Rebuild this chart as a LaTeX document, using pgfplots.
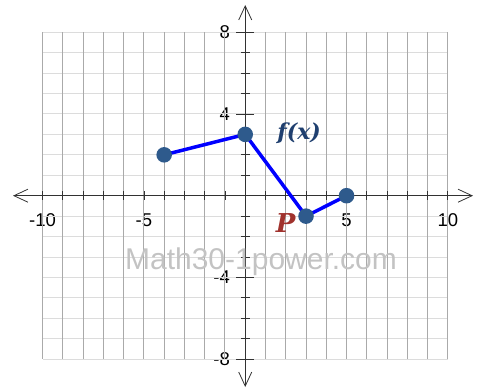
\documentclass[border=0pt]{standalone}
\usepackage{fontspec}
\setmainfont{Liberation Sans}
\newfontfamily\labserif{DejaVu Serif}
\usepackage{pgfplots}
\pgfplotsset{compat=1.18}
\usetikzlibrary{arrows.meta}
\definecolor{linecol}{RGB}{0,0,255}
\definecolor{markcol}{RGB}{46,90,140}
\definecolor{fxcol}{RGB}{31,63,111}
\definecolor{pcol}{RGB}{160,50,45}
\definecolor{axiscol}{RGB}{50,50,50}
\definecolor{vgrid}{RGB}{170,170,170}
\definecolor{hgrid}{RGB}{220,220,220}
\definecolor{wmcol}{RGB}{195,195,195}
\begin{document}
\begin{tikzpicture}
\begin{axis}[
  scale only axis, width=460pt, height=382pt,
  xmin=-11.46, xmax=11.24, ymin=-9.36, ymax=9.33,
  axis lines=middle,
  axis line style={draw=none},
  tick style={draw=none},
  xtick={-10,-5,5,10},
  xticklabels={-10,-5,5,10},
  ytick={-8,-4,4,8},
  yticklabels={-8,-4,4,8},
  tick label style={font=\fontsize{18.5}{20}\selectfont},
  xticklabel style={font=\fontsize{18.5}{20}\selectfont, anchor=north, inner sep=0pt, yshift=-16pt},
  yticklabel style={font=\fontsize{18.5}{20}\selectfont, anchor=east, inner sep=0pt, xshift=-13pt},
  clip=false,
]
\addplot[draw=hgrid, line width=1pt, xcomb, forget plot] coordinates {
  (10,-8) (10,-7) (10,-6) (10,-5) (10,-4) (10,-3) (10,-2) (10,-1) (10,0)
  (10,1) (10,2) (10,3) (10,4) (10,5) (10,6) (10,7) (10,8)};
\addplot[draw=hgrid, line width=1pt, xcomb, forget plot] coordinates {
  (-10,-8) (-10,-7) (-10,-6) (-10,-5) (-10,-4) (-10,-3) (-10,-2) (-10,-1) (-10,0)
  (-10,1) (-10,2) (-10,3) (-10,4) (-10,5) (-10,6) (-10,7) (-10,8)};
\addplot[draw=vgrid, line width=1pt, ycomb, forget plot] coordinates {
  (-10,8) (-9,8) (-8,8) (-7,8) (-6,8) (-5,8) (-4,8) (-3,8) (-2,8) (-1,8) (0,8)
  (1,8) (2,8) (3,8) (4,8) (5,8) (6,8) (7,8) (8,8) (9,8) (10,8)};
\addplot[draw=vgrid, line width=1pt, ycomb, forget plot] coordinates {
  (-10,-8) (-9,-8) (-8,-8) (-7,-8) (-6,-8) (-5,-8) (-4,-8) (-3,-8) (-2,-8) (-1,-8) (0,-8)
  (1,-8) (2,-8) (3,-8) (4,-8) (5,-8) (6,-8) (7,-8) (8,-8) (9,-8) (10,-8)};
\addplot[draw=axiscol, line width=0.8pt, -{Straight Barb[length=14pt,width=13pt]}, forget plot] coordinates {(0,0) (11.24,0)};
\addplot[draw=axiscol, line width=0.8pt, -{Straight Barb[length=14pt,width=13pt]}, forget plot] coordinates {(0,0) (-11.46,0)};
\addplot[draw=axiscol, line width=0.8pt, -{Straight Barb[length=14pt,width=13pt]}, forget plot] coordinates {(0,0) (0,9.33)};
\addplot[draw=axiscol, line width=0.8pt, -{Straight Barb[length=14pt,width=13pt]}, forget plot] coordinates {(0,0) (0,-9.36)};
% tick marks
\addplot[only marks, mark=|, mark size=4.5pt, mark options={draw=axiscol, line width=0.8pt}, forget plot] coordinates {
  (-10,0) (-9,0) (-8,0) (-7,0) (-6,0) (-5,0) (-4,0) (-3,0) (-2,0) (-1,0)
  (1,0) (2,0) (3,0) (4,0) (5,0) (6,0) (7,0) (8,0) (9,0) (10,0)};
\addplot[only marks, mark=-, mark size=4.5pt, mark options={draw=axiscol, line width=0.8pt}, forget plot] coordinates {
  (0,-7) (0,-6) (0,-5) (0,-3) (0,-2) (0,-1)
  (0,1) (0,2) (0,3) (0,5) (0,6) (0,7)};
\addplot[only marks, mark=-, mark size=9pt, mark options={draw=axiscol, line width=0.8pt}, forget plot] coordinates {
  (0,-8) (0,-4) (0,4) (0,8)};
\addplot[draw=linecol, line width=3.5pt, mark=*, mark size=6pt,
  mark options={draw=markcol, fill=markcol}]
  coordinates {(-4,2) (0,3) (3,-1) (5,0)};
\end{axis}
\node[text=wmcol, font=\fontsize{30}{31}\selectfont] at ([shift={(248.0pt,124.9pt)}]current axis.south west) {Math30-1power.com};
\node[text=fxcol, font=\labserif\fontsize{22}{24}\selectfont\bfseries\itshape] at ([shift={(286.1pt,254.1pt)}]current axis.south west) {f(x)};
\node[text=pcol, font=\labserif\fontsize{26}{28}\selectfont\bfseries\itshape] at ([shift={(272.6pt,163.9pt)}]current axis.south west) {P};
\pgfresetboundingbox
\path ([shift={(-13pt,-4pt)}]current axis.south west) rectangle ([shift={(6pt,5pt)}]current axis.north east);
\end{tikzpicture}
\end{document}
